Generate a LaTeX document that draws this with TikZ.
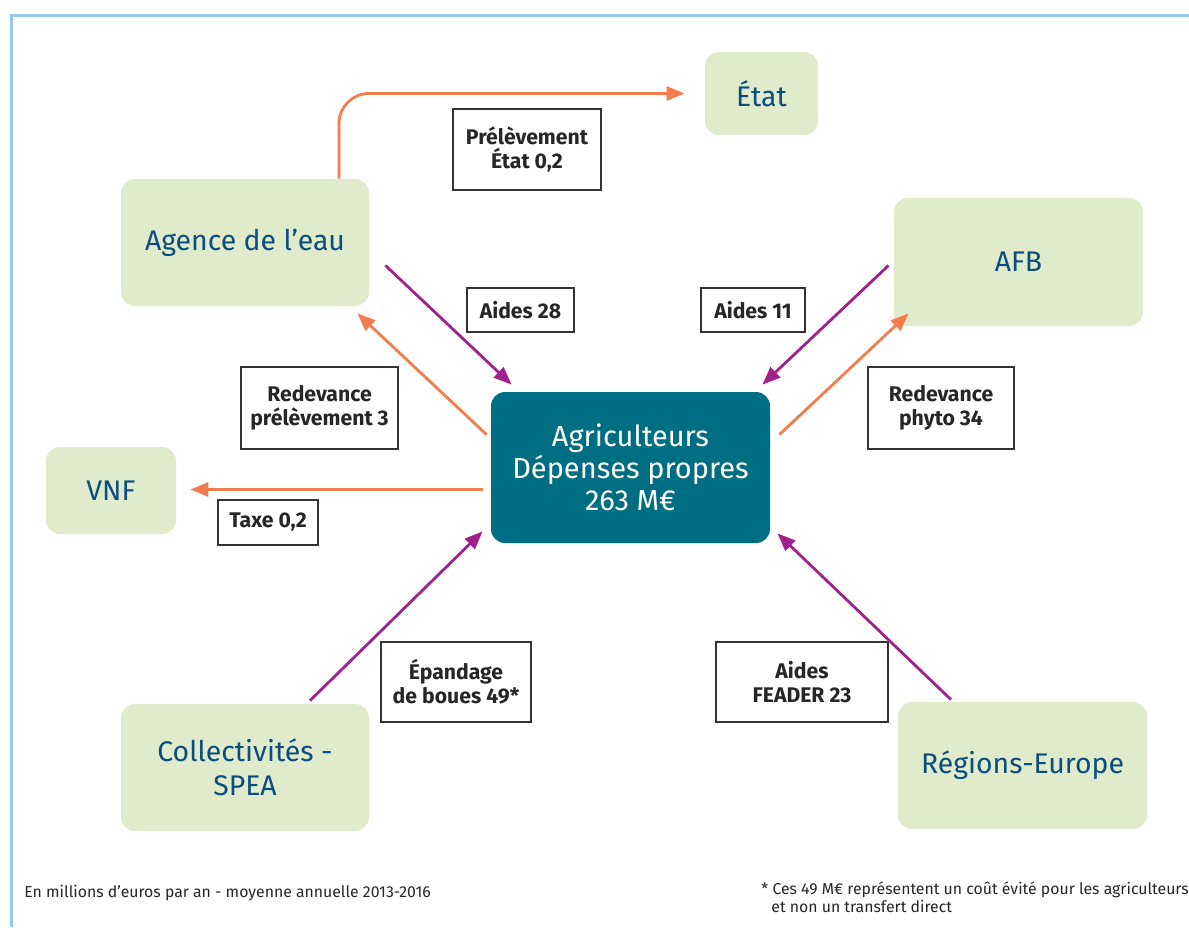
\documentclass[tikz,border=0pt]{standalone}
\usepackage{fontspec}
\setmainfont{Fira Sans}
\usepackage{xcolor}
\usetikzlibrary{arrows.meta,calc}

\definecolor{cadre}{HTML}{95C8EC}
\definecolor{vertpale}{HTML}{DFEBCB}
\definecolor{bleutexte}{HTML}{0B4D7E}
\definecolor{petrole}{HTML}{006E82}
\definecolor{flux}{HTML}{F47C4C}
\definecolor{aideviolet}{HTML}{A0218C}

\begin{document}
\begin{tikzpicture}[x=0.5pt,y=-0.5pt,
    acteur/.style={fill=vertpale, rounded corners=7pt, text=bleutexte, align=center,
      font=\fontsize{14.2}{17}\selectfont},
    montant/.style={draw=black!80, line width=1pt, fill=white, text=black!85, align=center,
      font=\bfseries\fontsize{10.6}{12}\selectfont},
    versement/.style={draw=flux, line width=1.4pt, -{Triangle[length=9pt,width=7pt]}},
    aidefleche/.style={draw=aideviolet, line width=1.4pt, -{Triangle[length=9pt,width=7pt]}}]
      % \draw[help lines, gray!50, very thin] (0,0) grid[step=50] (1189,927);
      \useasboundingbox (0,0) rectangle (1189,927);
      \draw[cadre, line width=1.5pt] (1189,15) -- (11,15) -- (11,927);

      % acteurs
      \node[acteur, minimum width=56.5pt, minimum height=41.5pt] (etat) at (761.5,93.5) {État};
      \node[acteur, minimum width=124pt, minimum height=63.5pt] (agence) at (245,242.5) {Agence de l’eau};
      \node[acteur, minimum width=124.5pt, minimum height=64pt] (afb) at (1018.5,262) {AFB};
      \node[acteur, minimum width=65pt, minimum height=43.5pt] (vnf) at (111,490.5) {VNF};
      \node[acteur, minimum width=124pt, minimum height=63.5pt] (coll) at (245,767.5) {Collectivités -\\SPEA};
      \node[acteur, minimum width=124.5pt, minimum height=63.5pt] (regions) at (1022.5,765.5) {Régions-Europe};
      \node[acteur, fill=petrole, text=white, minimum width=139.5pt, minimum height=75.5pt,
        font=\fontsize{14.5}{16}\selectfont] (agri) at (630.5,467.5) {Agriculteurs\\Dépenses propres\\263 M€};

      % montants
      \node[montant, minimum width=74pt, minimum height=40.5pt] (lprel) at (527,149.5) {Prélèvement\\État 0,2};
      \node[montant, minimum width=53.5pt, minimum height=22pt] (laidesagence) at (520.5,310) {Aides 28};
      \node[montant, minimum width=52pt, minimum height=22pt] (laidesafb) at (753,310) {Aides 11};
      \node[montant, minimum width=78.5pt, minimum height=41pt] (lredprel) at (319.5,408) {Redevance\\prélèvement 3};
      \node[montant, minimum width=73pt, minimum height=41pt] (lredphyto) at (941,408) {Redevance\\phyto 34};
      \node[montant, minimum width=50pt, minimum height=22.5pt] (ltaxe) at (268,522.5) {Taxe 0,2};
      \node[montant, minimum width=75pt, minimum height=40pt] (lepandage) at (456,682) {Épandage\\de boues 49*};
      \node[montant, minimum width=86pt, minimum height=40pt] (lfeader) at (802,682) {Aides\\FEADER 23};

      % flux
      \draw[versement, rounded corners=15pt] ([xshift=47pt]agence.north) |- ([xshift=-10pt]etat.west);
      \draw[aidefleche] ($(agence.south east)+(16,-41)$) -- ($(agri.north west)+(21,-7)$);
      \draw[versement] ($(agri.north west)+(-4,43)$) -- ($(agence.south east)+(-12,7)$);
      \draw[aidefleche] ($(afb.south west)+(-5,-61)$) -- ($(agri.north east)+(-8,-7)$);
      \draw[versement] ($(agri.north east)+(9,43)$) -- ($(afb.south west)+(15,-13)$);
      \draw[versement] ($(agri.west)+(-8,22)$) -- ($(vnf.east)+(14,-1)$);
      \draw[aidefleche] ($(coll.north)+(65,-3)$) -- ($(agri.south west)+(-8,-12)$);
      \draw[aidefleche] ($(regions.north)+(-71.5,-2)$) -- ($(agri.south east)+(7,-10)$);

      % notes
      \node[anchor=west, text=black!85, inner sep=0pt, font=\fontsize{7.9}{9}\selectfont] (unite) at (24,893)
        {En millions d’euros par an - moyenne annuelle 2013-2016};
      \node[anchor=north west, text=black!85, align=left, inner sep=0pt,
        font=\fontsize{7.9}{9}\selectfont] (renvoi) at (761,881)
        {* Ces 49 M€ représentent un coût évité pour les agriculteurs\\\hspace*{5pt}et non un transfert direct};
    \end{tikzpicture}
\end{document}
